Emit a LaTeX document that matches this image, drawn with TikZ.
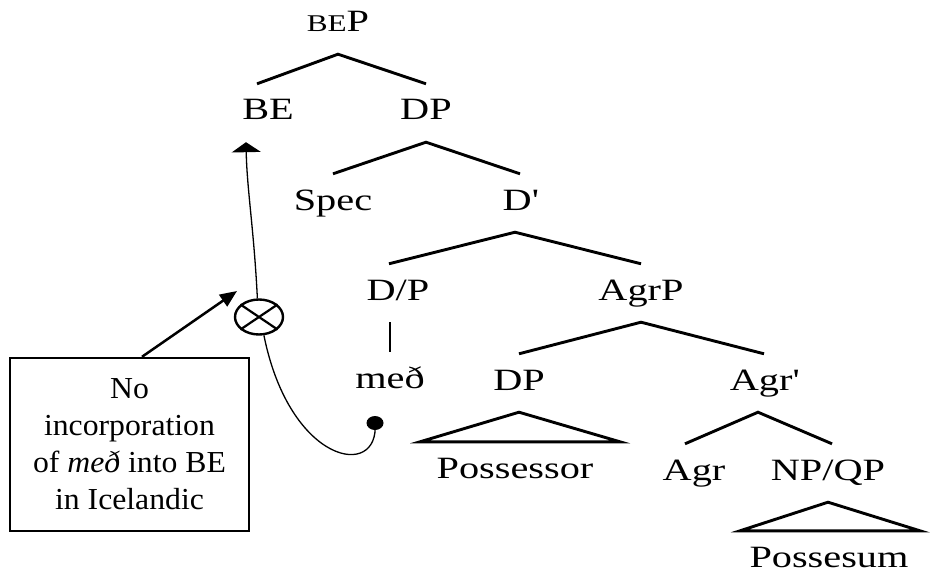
\documentclass[tikz,border=0pt]{standalone}
\usepackage{fontspec}
\setmainfont{Liberation Serif}[FakeStretch=1.3]
\newfontfamily\notefont{Liberation Serif}[FakeStretch=1.04]
\usetikzlibrary{arrows.meta,shapes.geometric}
\begin{document}
\begin{tikzpicture}[x=1pt,y=-1pt,
  cat/.style={anchor=base,inner sep=0pt,inner ysep=15pt,text height=21pt,text depth=7pt,font=\fontsize{31}{36}\selectfont},
  branch/.style={line width=2.9pt},
  move/.style={line width=1.3pt},
  note/.style={draw,line width=2.4pt,minimum width=239pt,minimum height=173pt,inner sep=0pt,align=center,font=\notefont\fontsize{30.5}{37}\selectfont},
  pointer/.style={line width=2.5pt,-{Triangle[length=17pt,width=14pt]}}]
\useasboundingbox (0,0) rectangle (933,572);
\node[cat] (bep) at (338,32) {{\fontsize{24}{26}\selectfont BE}P};
\node[cat] (be) at (268,120) {BE};
\node[cat] (dp) at (426,120) {DP};
\node[cat] (spec) at (333,210) {Spec};
\node[cat] (dbar) at (520,210) {D\textquotesingle};
\node[cat] (dpp) at (398,300) {D/P};
\node[cat] (agrp) at (641,300) {AgrP};
\node[cat] (med) at (390,388) {með};
\node[cat] (poss) at (519,390) {DP};
\node[cat] (agrbar) at (764,390) {Agr\textquotesingle};
\node[cat] (possor) at (515,478) {Possessor};
\node[cat] (agr) at (694,480) {Agr};
\node[cat] (npqp) at (828,480) {NP/QP};
\node[cat] (possum) at (829,567) {Possesum};
\draw[branch] ([xshift=-11pt]be.north) -- (bep.south) -- (dp.north);
\draw[branch] (spec.north) -- (dp.south) -- (dbar.north);
\draw[branch] ([xshift=-9pt]dpp.north) -- ([xshift=-5pt]dbar.south) -- (agrp.north);
\draw[branch] (med.north) -- (med.north |- dpp.south);
\draw[branch] (poss.north) -- (agrp.south) -- (agrbar.north);
\draw[branch] ([xshift=-95pt]possor.north) -- (poss.south) -- ([xshift=105pt]possor.north) -- cycle;
\draw[branch] ([xshift=-9pt]agr.north) -- ([xshift=-6pt]agrbar.south) -- ([xshift=4pt]npqp.north);
\draw[branch] ([xshift=-89pt]possum.north) -- (npqp.south) -- ([xshift=91pt]possum.north) -- cycle;
\node[note] (note) at (129.5,444.5) {No\\incorporation\\of \textit{með} into BE\\in Icelandic};
\node[draw,ellipse,line width=2.4pt,minimum width=48pt,minimum height=35pt,inner sep=0pt] (cross) at (259,317) {};
\draw[line width=2.2pt] (cross.146) -- (cross.-34) (cross.34) -- (cross.-146);
\node[fill,ellipse,inner sep=0pt,minimum width=17pt,minimum height=14pt] (dot) at (375,423) {};
\coordinate (betip) at ([xshift=-22pt]be.south);
\draw[move,-{Triangle[length=10pt,width=29pt]}] (cross.95) .. controls (254,230) and (247,190) .. (betip);
\draw[move] (dot.center) .. controls (380,480) and (290,465) .. (cross.-75);
\draw[pointer] ([xshift=12.5pt]note.north) -- ([xshift=-22pt,yshift=26pt]cross.center);
\end{tikzpicture}
\end{document}
